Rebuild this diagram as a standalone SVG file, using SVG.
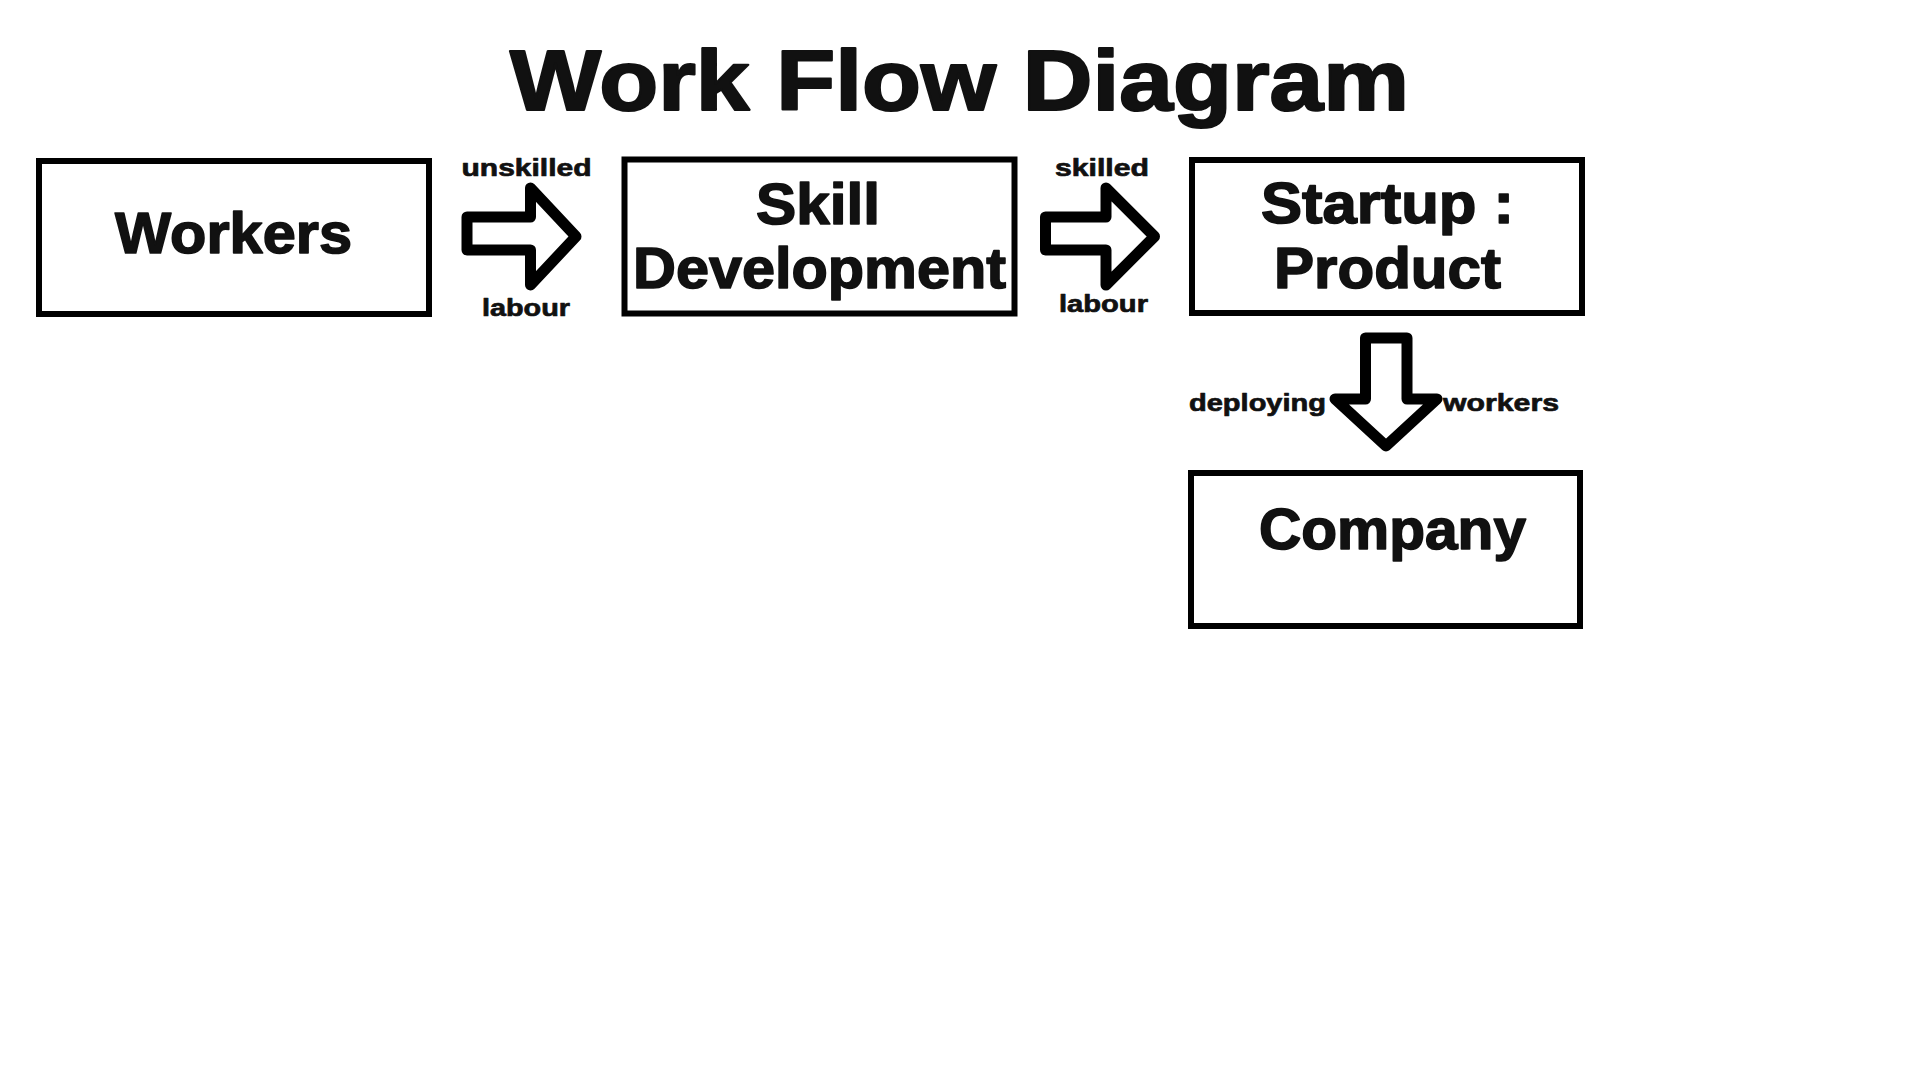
<svg xmlns="http://www.w3.org/2000/svg" width="1920" height="1080" viewBox="0 0 1920 1080">
<style>
text{font-family:"Liberation Sans",Arial,Helvetica,sans-serif;font-weight:bold;fill:#111;stroke:#111;stroke-linejoin:round;}
.title{font-size:86px;stroke-width:2.2;}
.node{font-size:58px;stroke-width:1.6;}
.lbl{font-size:24px;stroke-width:0.7;}
.box{fill:#fff;stroke:#000;stroke-width:6;}
.arrow{fill:#fff;stroke:#000;stroke-width:11;stroke-linejoin:round;}
</style>
<rect x="0" y="0" width="1920" height="1080" fill="#fff"/>
<text class="title" x="510" y="109.5" textLength="899" lengthAdjust="spacingAndGlyphs">Work Flow Diagram</text>

<g id="node-workers">
<rect class="box" x="39" y="161" width="390" height="153"/>
<text class="node" x="115" y="252.5" textLength="237" lengthAdjust="spacingAndGlyphs">Workers</text>
</g>

<g id="node-skill">
<rect class="box" x="624.5" y="159.5" width="390" height="154"/>
<text class="node" x="756" y="224" textLength="124" lengthAdjust="spacingAndGlyphs">Skill</text>
<text class="node" x="633" y="288" textLength="373" lengthAdjust="spacingAndGlyphs">Development</text>
</g>

<g id="node-startup">
<rect class="box" x="1192" y="160" width="390" height="153"/>
<text class="node" x="1261" y="223" textLength="253" lengthAdjust="spacingAndGlyphs">Startup :</text>
<text class="node" x="1274" y="288" textLength="227" lengthAdjust="spacingAndGlyphs">Product</text>
</g>

<g id="node-company">
<rect class="box" x="1191" y="473" width="389" height="153"/>
<text class="node" x="1259" y="549" textLength="267" lengthAdjust="spacingAndGlyphs">Company</text>
</g>

<g id="connectors">
<path class="arrow" d="M467,217 H530.5 V188 L576,236.5 L530.5,285 V250 H467 Z"/>
<text class="lbl" x="461.5" y="176" textLength="130" lengthAdjust="spacingAndGlyphs">unskilled</text>
<text class="lbl" x="482" y="315.5" textLength="88" lengthAdjust="spacingAndGlyphs">labour</text>

<path class="arrow" d="M1045.5,217 H1106 V188 L1154.5,236.5 L1106,285 V250 H1045.5 Z"/>
<text class="lbl" x="1055" y="176" textLength="94" lengthAdjust="spacingAndGlyphs">skilled</text>
<text class="lbl" x="1059" y="312" textLength="89" lengthAdjust="spacingAndGlyphs">labour</text>

<path class="arrow" d="M1365.5,338 H1407 V399 H1437 L1386,446 L1335,399 H1365.5 Z"/>
<text class="lbl" x="1189" y="410.5" textLength="137" lengthAdjust="spacingAndGlyphs">deploying</text>
<text class="lbl" x="1443" y="410.5" textLength="116" lengthAdjust="spacingAndGlyphs">workers</text>
</g>
</svg>
